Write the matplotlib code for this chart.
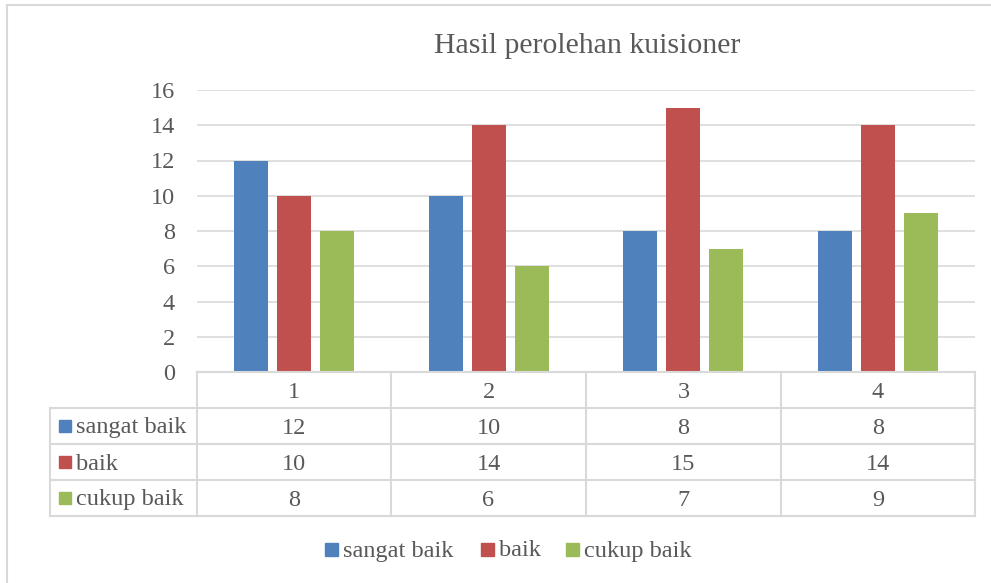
import matplotlib.pyplot as plt
from matplotlib.patches import Rectangle
from matplotlib.lines import Line2D

plt.rcParams['font.family'] = ['Liberation Serif', 'DejaVu Serif']

categories = ["1", "2", "3", "4"]
series_names = ["sangat baik", "baik", "cukup baik"]
sangat_baik = [12, 10, 8, 8]
baik = [10, 14, 15, 14]
cukup_baik = [8, 6, 7, 9]
values = [sangat_baik, baik, cukup_baik]
colors = ["#4F81BD", "#C0504D", "#9BBB59"]
text_col = "#595959"
grid_col = "#D9D9D9"

W, H = 991, 583
fig = plt.figure(figsize=(W / 100, H / 100), dpi=100)

def fx(px):
    return px / W

def fy(py):
    return 1 - py / H

def square(x, y, size, color):
    # x, y = top-left corner in pixels
    fig.patches.append(Rectangle((fx(x), fy(y + size)), fx(size), fy(y) - fy(y + size),
                                 transform=fig.transFigure, color=color))

# outer chart border (only top and left edges show in the picture)
fig.add_artist(Line2D([fx(7), fx(7)], [fy(583), fy(5)], color=grid_col, lw=1.5))
fig.add_artist(Line2D([fx(7), fx(991)], [fy(5), fy(5)], color=grid_col, lw=1.5))

left, right, top, zero = 197, 975, 90, 372
ax = fig.add_axes([fx(left), fy(zero), fx(right - left), fy(top) - fy(zero)])
n = len(categories)
bw = 0.175
step = 0.221
for i, vals in enumerate(values):
    xs = [k + (i - 1) * step for k in range(n)]
    ax.bar(xs, vals, width=bw, color=colors[i], zorder=3)
ax.set_xlim(-0.5, n - 0.5)
ax.set_ylim(0, 16)
ax.set_yticks(range(0, 17, 2))
ax.yaxis.grid(True, color=grid_col, lw=1.2, zorder=0)
ax.set_xticks([])
for s in ax.spines.values():
    s.set_visible(False)
ax.tick_params(axis='y', length=0, pad=16, labelsize=17.5, labelcolor=text_col)

fig.text(fx(587), fy(46), "Hasil perolehan kuisioner", ha='center', va='center',
         fontsize=21.5, color=text_col)

# data table
row_y = [372, 408, 444, 480, 516]
col_x = [50, 197, 391, 586, 781, 975]
def hline(x0, x1, y):
    fig.add_artist(Line2D([fx(x0), fx(x1)], [fy(y), fy(y)], color=grid_col, lw=1.5))
def vline(x, y0, y1):
    fig.add_artist(Line2D([fx(x), fx(x)], [fy(y0), fy(y1)], color=grid_col, lw=1.5))

hline(col_x[1], col_x[-1], row_y[0])
for y in row_y[1:]:
    hline(col_x[0], col_x[-1], y)
vline(col_x[0], row_y[1], row_y[-1])
for x in col_x[1:]:
    vline(x, row_y[0], row_y[-1])

fs = 17.5
for j, c in enumerate(categories):
    cx = (col_x[j + 1] + col_x[j + 2]) / 2
    fig.text(fx(cx), fy((row_y[0] + row_y[1]) / 2 + 2), c, ha='center', va='center',
             fontsize=fs, color=text_col)
for i, name in enumerate(series_names):
    yc = (row_y[i + 1] + row_y[i + 2]) / 2
    square(59, yc - 6, 12, colors[i])
    fig.text(fx(76), fy(yc + 2), name, ha='left', va='center', fontsize=fs, color=text_col)
    for j, v in enumerate(values[i]):
        cx = (col_x[j + 1] + col_x[j + 2]) / 2
        fig.text(fx(cx), fy(yc + 2), str(v), ha='center', va='center',
                 fontsize=fs, color=text_col)

# legend
leg_x = [325, 481, 566]
for i, name in enumerate(series_names):
    square(leg_x[i], 543, 13, colors[i])
    fig.text(fx(leg_x[i] + 18), fy(551), name, ha='left', va='center',
             fontsize=fs, color=text_col)

fig.savefig("out.png", dpi=100)
